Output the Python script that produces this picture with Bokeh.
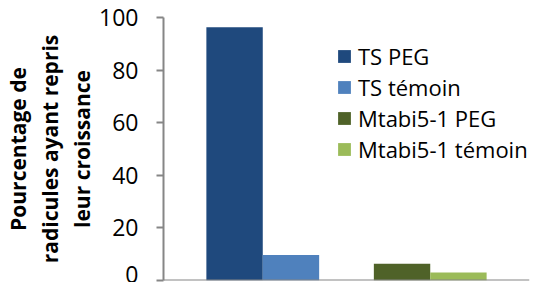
from bokeh.plotting import figure
from bokeh.models import FactorRange, Range1d, Span, SingleIntervalTicker
from bokeh.embed import file_html
from bokeh.resources import INLINE

# Data
groups = ["TS", "TS", "Mtabi5-1", "Mtabi5-1"]
treatments = ["PEG", "témoin", "PEG", "témoin"]
series = ["TS PEG", "TS témoin", "Mtabi5-1 PEG", "Mtabi5-1 témoin"]
values = [96.3, 9.7, 6.4, 3.0]
colors = ["#1F497D", "#4F81BD", "#4F6228", "#9BBB59"]
y_label = "Pourcentage de\nradicules ayant repris\nleur croissance"

factors = list(zip(groups, treatments))

p = figure(
    x_range=FactorRange(*factors, group_padding=0.97, factor_padding=0,
                        range_padding=0.306, range_padding_units="percent"),
    y_range=Range1d(0, 100),
    width=530, height=282,
    output_backend="svg", toolbar_location=None,
    min_border_left=157, min_border_right=1, min_border_top=17, min_border_bottom=2,
)
p.outline_line_color = None
p.xgrid.visible = False
p.ygrid.visible = False
p.xaxis.visible = False

for f, v, c, s in zip(factors, values, colors, series):
    p.vbar(x=[f], top=[v], width=1, fill_color=c, line_color=None, legend_label=s)

axis_color = "#868686"
p.add_layout(Span(location=0, dimension="width", line_color=axis_color, line_width=2))

ya = p.yaxis[0]
ya.ticker = SingleIntervalTicker(interval=20)
ya.minor_tick_line_color = None
ya.axis_line_color = axis_color
ya.axis_line_width = 2
ya.major_tick_line_color = axis_color
ya.major_tick_line_width = 2
ya.major_tick_out = 7
ya.major_tick_in = 0
ya.major_label_standoff = 18
ya.major_label_text_font = "Open Sans"
ya.major_label_text_font_size = "23px"
ya.major_label_text_color = "black"
ya.axis_label = y_label
ya.axis_label_text_font = "Open Sans"
ya.axis_label_text_font_size = "21px"
ya.axis_label_text_font_style = "bold"
ya.axis_label_text_color = "black"
ya.axis_label_text_line_height = 1.15
ya.axis_label_standoff = 0

lg = p.legend[0]
lg.location = (173, 116)
lg.border_line_color = None
lg.background_fill_alpha = 0
lg.padding = 0
lg.margin = 0
lg.spacing = 1
lg.glyph_width = 16
lg.glyph_height = 16
lg.label_standoff = 6
lg.label_text_font = "Open Sans"
lg.label_text_font_size = "22px"
lg.label_text_color = "black"

open("out.html", "w").write(file_html(p, INLINE))
